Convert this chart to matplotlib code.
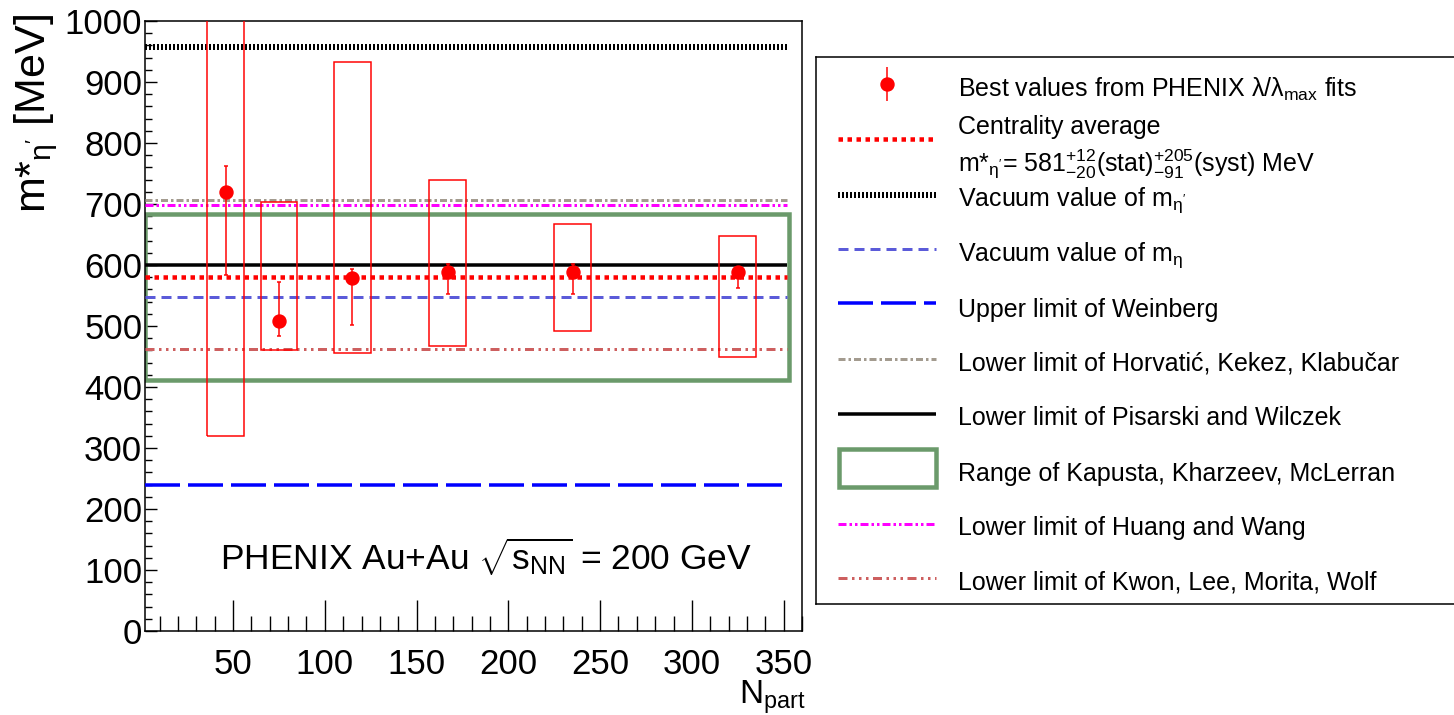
import matplotlib
matplotlib.use("Agg")
import matplotlib.pyplot as plt
from matplotlib.patches import Rectangle
from matplotlib.ticker import MultipleLocator

plt.rcParams["font.family"] = ["Liberation Sans", "DejaVu Sans"]
plt.rcParams["mathtext.fontset"] = "custom"
plt.rcParams["mathtext.rm"] = "Liberation Sans"
plt.rcParams["mathtext.it"] = "Liberation Sans:italic"
plt.rcParams["mathtext.bf"] = "Liberation Sans:bold"

# PHENIX best values vs centrality
npart = [46, 75, 115, 167, 235, 325]
mass = [720, 508, 579, 589, 589, 589]
stat_lo = [137, 25, 77, 37, 37, 27]
stat_hi = [43, 64, 14, 13, 13, 8]
syst_lo = [320, 460, 456, 468, 492, 450]
syst_hi = [1100, 703, 933, 740, 667, 648]
box_half = 10

# reference levels in MeV
vac_etap = 958
horvatic = 706
huang = 698
pisarski = 600
centrality_avg = 581
vac_eta = 548
kwon = 462
weinberg = 240
kapusta = [411, 683]
line_span = [2, 352]
box_span = [2, 353]

x_ticks = [50, 100, 150, 200, 250, 300, 350]
y_ticks = [0, 100, 200, 300, 400, 500, 600, 700, 800, 900, 1000]

RED = "#ff0000"
GREEN = "#6b9a6b"


def dash(lw_px, *seg_px):
    # dash lengths given in pixels, matplotlib scales them by linewidth
    return (0, tuple(s / lw_px for s in seg_px))


def pt(px):
    return px * 0.72


styles = {
    "centrality": dict(color=RED, lw=pt(4.5), ls=dash(4.5, 4.5, 4.5)),
    "vac_etap": dict(color="black", lw=pt(6), ls=dash(6, 2, 2)),
    "vac_eta": dict(color="#5b5bd9", lw=pt(3), ls=dash(3, 10, 6)),
    "weinberg": dict(color="#0000ff", lw=pt(3.5), ls=dash(3.5, 35, 8)),
    "horvatic": dict(color="#a39b8f", lw=pt(3), ls=dash(3, 7, 3, 2.5, 3)),
    "pisarski": dict(color="black", lw=pt(3.5), ls="-"),
    "huang": dict(color="#ff00ff", lw=pt(3), ls=dash(3, 8, 3, 2.5, 3, 2.5, 3)),
    "kwon": dict(color="#cd5f5f", lw=pt(3), ls=dash(3, 9, 4.5, 2.5, 4.5, 2.5, 4.5, 2.5, 4.5)),
}
levels = [("vac_etap", vac_etap), ("horvatic", horvatic), ("huang", huang),
          ("pisarski", pisarski), ("centrality", centrality_avg), ("vac_eta", vac_eta),
          ("kwon", kwon), ("weinberg", weinberg)]

fig = plt.figure(figsize=(14.54, 7.15), dpi=100)
ax = fig.add_axes([145 / 1454, 84 / 715, 657 / 1454, 610 / 715])

ax.add_patch(Rectangle((box_span[0], kapusta[0]), box_span[1] - box_span[0], kapusta[1] - kapusta[0],
                       fill=False, edgecolor=GREEN, lw=pt(4.5), zorder=2))
for key, val in levels:
    ax.plot(line_span, [val, val], solid_capstyle="butt", dash_capstyle="butt", zorder=3, **styles[key])

for x, lo, hi in zip(npart, syst_lo, syst_hi):
    ax.add_patch(Rectangle((x - box_half, lo), 2 * box_half, hi - lo, fill=False,
                           edgecolor=RED, lw=pt(1.5), zorder=4))
ax.errorbar(npart, mass, yerr=[stat_lo, stat_hi], fmt="o", color=RED, ms=pt(13),
            elinewidth=pt(1.5), capsize=1.5, capthick=pt(1.5), zorder=5)

ax.set_xlim(2, 360)
ax.set_ylim(0, 1000)
ax.set_xticks(x_ticks)
ax.set_yticks(y_ticks)
ax.xaxis.set_minor_locator(MultipleLocator(10))
ax.yaxis.set_minor_locator(MultipleLocator(20))
ax.tick_params(axis="x", which="major", direction="in", length=pt(31), width=1, labelsize=25, pad=12, top=False)
ax.tick_params(axis="x", which="minor", direction="in", length=pt(15), width=1, top=False)
ax.tick_params(axis="y", which="major", direction="in", length=pt(12), width=1, labelsize=25, pad=2, right=False)
ax.tick_params(axis="y", which="minor", direction="in", length=pt(6.5), width=1, right=False)
for sp in ax.spines.values():
    sp.set_linewidth(1.1)

ax.text(0.114, 0.1, r"PHENIX Au+Au $\sqrt{\mathrm{s}_{\mathrm{NN}}}$ = 200 GeV",
        transform=ax.transAxes, fontsize=25.5, va="baseline")
fig.text(12 / 1454, 1 - 14 / 715, r"m*$_{\mathrm{\eta'}}$ [MeV]", rotation=90,
         ha="left", va="top", fontsize=31)
fig.text(806 / 1454, 11 / 715, r"N$_{\mathrm{part}}$", ha="right", va="baseline", fontsize=24)

# legend panel, laid out in figure pixels
leg = fig.add_axes([816 / 1454, 111 / 715, 654 / 1454, 547.3 / 715])
leg.set_xlim(816, 1470)
leg.set_ylim(604, 56.7)
leg.set_xticks([])
leg.set_yticks([])
for sp in leg.spines.values():
    sp.set_linewidth(1.1)

hx = [838, 936]
tx = 958
fs = 18
leg.errorbar([887], [84], yerr=[[17], [17]], fmt="o", color=RED, ms=pt(13), elinewidth=pt(1.5))
leg.text(tx, 96.7, r"Best values from PHENIX $\mathrm{\lambda/\lambda_{max}}$ fits", fontsize=fs, va="baseline")

rows = [("centrality", 139), ("vac_etap", 195), ("vac_eta", 249), ("weinberg", 303),
        ("horvatic", 359), ("pisarski", 414), ("huang", 524), ("kwon", 578)]
for key, y in rows:
    leg.plot(hx, [y, y], solid_capstyle="butt", dash_capstyle="butt", **styles[key])
leg.add_patch(Rectangle((839, 449), 97, 38, fill=False, edgecolor=GREEN, lw=pt(4.5)))

labels = [
    ("Centrality average", 134),
    (r"m*$_{\mathrm{\eta'}}$= $\mathrm{581}^{+12}_{-20}\mathrm{(stat)}^{+205}_{-91}\mathrm{(syst)}$ MeV", 171.7),
    (r"Vacuum value of m$_{\mathrm{\eta'}}$", 206),
    (r"Vacuum value of m$_{\mathrm{\eta}}$", 260.7),
    ("Upper limit of Weinberg", 316.7),
    ("Lower limit of Horvatić, Kekez, Klabučar", 370),
    ("Lower limit of Pisarski and Wilczek", 425.3),
    ("Range of Kapusta, Kharzeev, McLerran", 481.3),
    ("Lower limit of Huang and Wang", 535),
    ("Lower limit of Kwon, Lee, Morita, Wolf", 589.3),
]
for text, y in labels:
    leg.text(tx, y, text, fontsize=fs, va="baseline")

fig.savefig("out.png", dpi=100)
